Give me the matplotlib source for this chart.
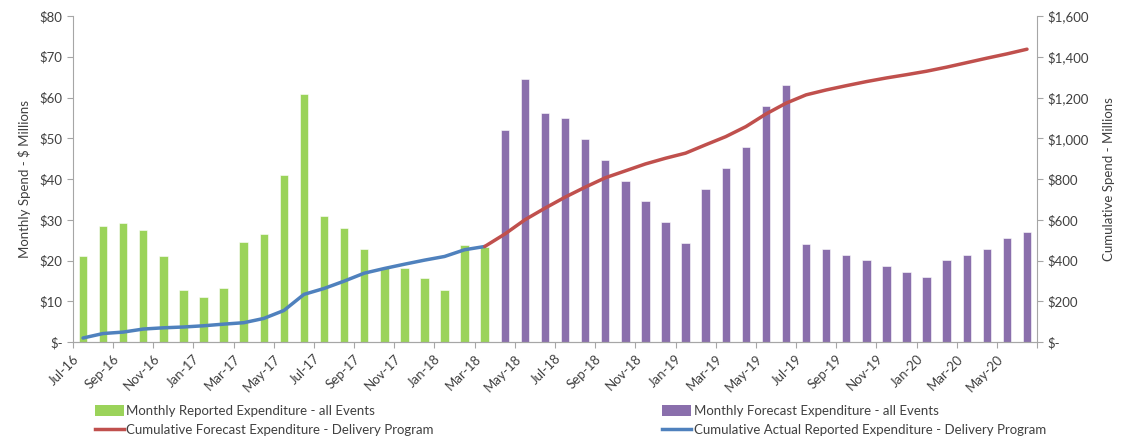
import numpy as np
import pandas as pd
import matplotlib
matplotlib.use('Agg')
import matplotlib.pyplot as plt
from matplotlib.patches import Patch
from matplotlib.lines import Line2D

# Month categories Jul-16 .. Jun-20
months = pd.date_range('2016-07-01', periods=48, freq='MS').strftime('%b-%y').tolist()

# Monthly reported expenditure (Jul-16 .. Mar-18), $M
reported = [21.0, 28.6, 29.2, 27.5, 21.2, 12.8, 11.0, 13.3, 24.5, 26.5, 41.1,
            60.9, 31.0, 28.0, 22.9, 18.1, 18.2, 15.7, 12.8, 23.8, 23.4]

# Monthly forecast expenditure (Apr-18 .. Jun-20), $M
forecast = [52.0, 64.5, 56.2, 54.9, 49.8, 44.6, 39.6, 34.6, 29.5, 24.3, 37.6,
            42.6, 47.9, 58.0, 63.0, 24.1, 22.9, 21.4, 20.2, 18.7, 17.3, 16.0,
            20.2, 21.4, 22.9, 25.6, 26.9]

# Cumulative actual (Jul-16 .. Mar-18), $M
cum_actual = [20, 42, 49, 64, 70, 74, 80, 88, 95, 116, 155, 234, 263, 299,
              338, 361, 382, 402, 420, 453, 469]

# Cumulative forecast (Mar-18 .. Jun-20), $M
cum_forecast = [469, 530, 600, 657, 711, 760, 806, 840, 874, 902, 927, 968,
                1008, 1057, 1119, 1172, 1213, 1237, 1258, 1278, 1296, 1312,
                1329, 1349, 1371, 1393, 1414, 1437]

GREEN = '#9BD35A'
PURPLE = '#8A6FAC'
RED = '#C0504D'
BLUE = '#4F81BD'
AXIS_GREY = '#A6A6A6'
TEXT = '#404040'

plt.rcParams['font.family'] = ['Lato', 'DejaVu Sans']
plt.rcParams['font.size'] = 9

fig = plt.figure(figsize=(11.21, 4.38), dpi=100)
ax = fig.add_axes([0.0651, 0.219, 0.8600, 0.7445])

x_rep = np.arange(len(reported))
x_fc = np.arange(len(reported), len(reported) + len(forecast))

ax.bar(x_rep, reported, width=0.42, color=GREEN, edgecolor='white', linewidth=0.4)
ax.bar(x_fc, forecast, width=0.42, color=PURPLE, edgecolor='white', linewidth=0.4)

ax.set_xlim(-0.5, len(months) - 0.5)
ax.set_ylim(0, 80)
ax.set_yticks(np.arange(0, 81, 10))
ax.set_yticklabels(['$-'] + ['${}'.format(v) for v in range(10, 81, 10)])

# ticks sit between categories, one every two months
tick_pos = np.arange(-0.5, len(months), 2)
ax.set_xticks(tick_pos)
ax.set_xticklabels([months[i] for i in range(0, len(months), 2)] + [''],
                   rotation=45, ha='right', rotation_mode='anchor')

ax.set_ylabel('Monthly Spend - $ Millions', color=TEXT, fontsize=9.5, labelpad=6)

ax2 = ax.twinx()
ax2.plot(np.arange(len(cum_actual)), cum_actual, color=BLUE, linewidth=2.5,
         solid_capstyle='round', zorder=3)
x_cf = np.arange(len(reported) - 1, len(reported) - 1 + len(cum_forecast))
ax2.plot(x_cf, cum_forecast, color=RED, linewidth=2.5, solid_capstyle='round',
         zorder=3)
ax2.set_ylim(0, 1600)
ax2.set_yticks(np.arange(0, 1601, 200))
ax2.set_yticklabels(['$-'] + ['${:,}'.format(v) for v in range(200, 1601, 200)])
ax2.set_ylabel('Cumulative Spend - Millions', color=TEXT, fontsize=9.5, labelpad=10)

for a in (ax, ax2):
    a.spines['top'].set_visible(False)
    for s in ('left', 'right', 'bottom'):
        a.spines[s].set_color(AXIS_GREY)
        a.spines[s].set_linewidth(0.8)
    a.tick_params(colors=TEXT, labelsize=9.5, length=4, width=0.8)
    a.tick_params(axis='both', color=AXIS_GREY)

ax2.spines['left'].set_visible(False)
ax.spines['right'].set_visible(False)

handles = [Patch(facecolor=GREEN),
           Line2D([0], [0], color=RED, linewidth=2.5),
           Patch(facecolor=PURPLE),
           Line2D([0], [0], color=BLUE, linewidth=2.5)]
labels = ['Monthly Reported Expenditure - all Events',
          'Cumulative Forecast Expenditure - Delivery Program',
          'Monthly Forecast Expenditure - all Events',
          'Cumulative Actual Reported Expenditure - Delivery Program']
leg = fig.legend(handles, labels, ncol=2, loc='lower left',
                 bbox_to_anchor=(0.0738, -0.022), frameon=False,
                 fontsize=9.5, handlelength=2.2, handleheight=0.9,
                 handletextpad=0.2, columnspacing=17.3, labelspacing=0.5,
                 labelcolor=TEXT)

fig.savefig('out.png', dpi=100)
